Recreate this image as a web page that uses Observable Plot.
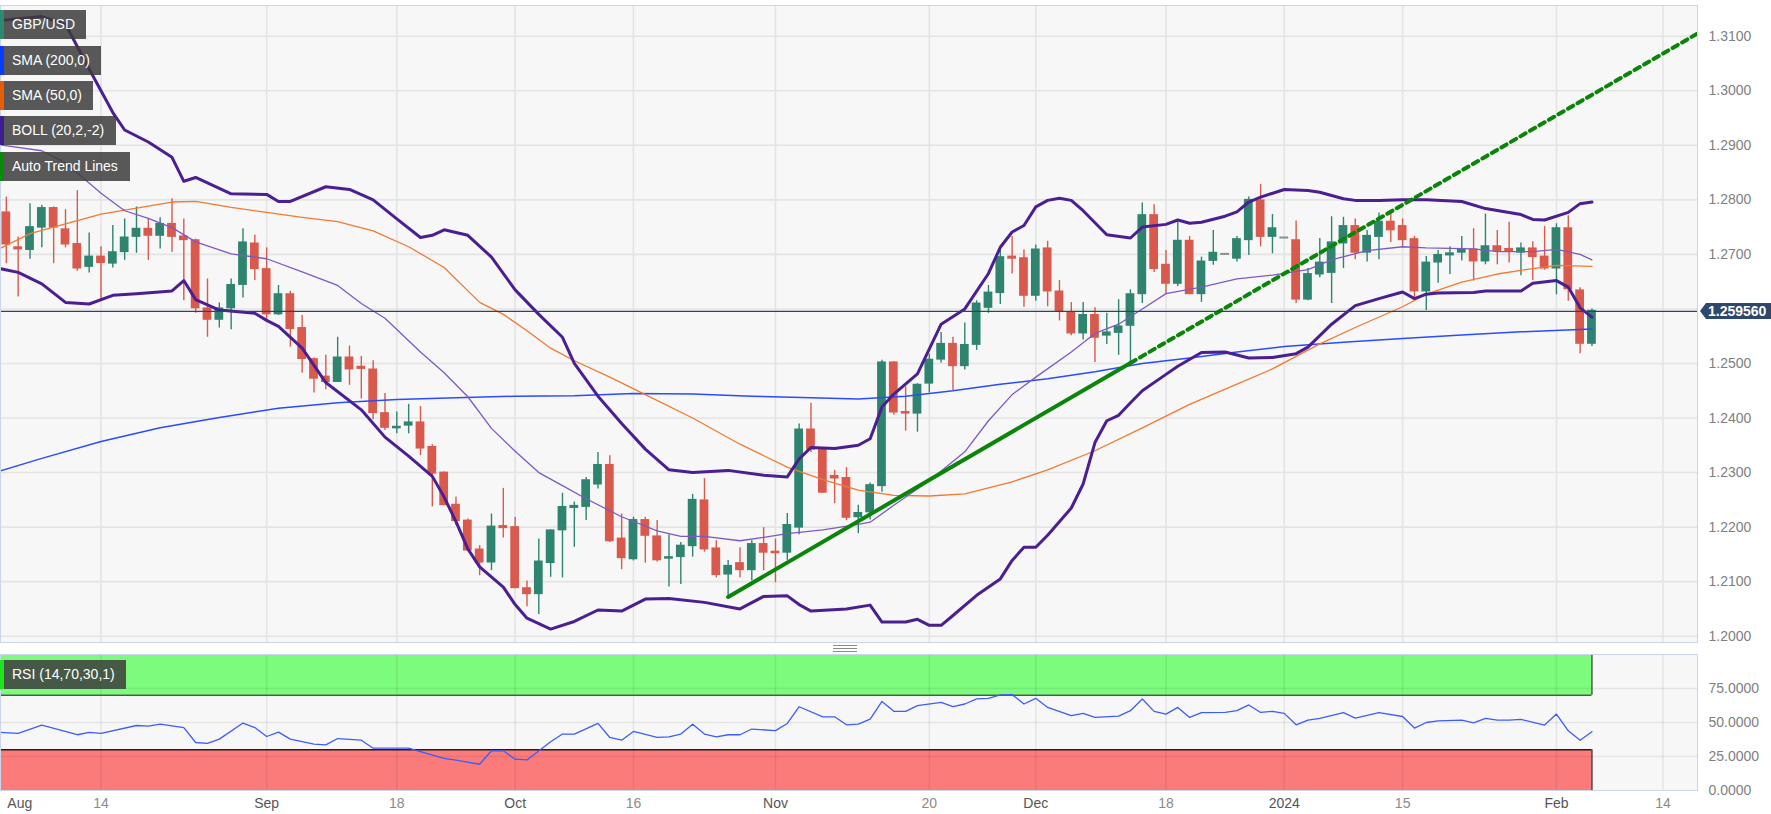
<!DOCTYPE html>
<html><head><meta charset="utf-8">
<script src="https://cdn.jsdelivr.net/npm/d3@7"></script>
<script src="https://cdn.jsdelivr.net/npm/@observablehq/plot@0.6"></script>
<style>
body{margin:0;background:#fff;font-family:"Liberation Sans",Arial,sans-serif;}
#wrap{position:relative;width:1771px;height:814px;overflow:hidden;background:#fff;}
#wrap svg{position:absolute;left:0;display:block;}
.leg{position:absolute;left:0;height:29px;line-height:29px;background:rgba(60,60,60,0.85);color:#fff;font-size:14px;padding:0 10px 0 8px;border-left:4px solid;box-sizing:border-box;white-space:nowrap;}
.hd{position:absolute;left:833px;width:24px;height:1px;background:#8a8a8a;}
</style></head><body><div id="wrap"></div>
<script>
// ---------- categories ----------
const tickDates = ["2023-08-02","2023-08-14","2023-09-01","2023-09-18","2023-10-02","2023-10-16","2023-11-01","2023-11-20","2023-12-01","2023-12-18","2024-01-01","2024-01-15","2024-02-01","2024-02-14"];
const tickLabels = ["Aug","14","Sep","18","Oct","16","Nov","20","Dec","18","2024","15","Feb","14"];
const priceTicks = [1.20,1.21,1.22,1.23,1.24,1.25,1.26,1.27,1.28,1.29,1.30,1.31];
const rsiTicks = [0,25,50,75];
const rsiUpper = 70, rsiLower = 30;
const candleStart = "2023-08-02";

// ---------- GBP/USD daily candles (Aug 2 2023 .. Feb 6 2024) ----------
const open = [1.2776,1.2712,1.2709,1.2750,1.2784,1.2745,1.2718,1.2678,
1.2695,1.2684,1.2705,1.2733,1.2746,1.2735,1.2755,1.2732,1.2725,1.2600,1.2581,1.2602,1.2645,1.2719,1.2672,
1.2591,1.2626,1.2564,1.2507,1.2475,1.2467,1.2510,1.2493,1.2488,1.2408,
1.2382,1.2387,1.2391,1.2346,1.2299,1.2240,1.2211,1.2158,1.2136,1.2201,
1.2199,1.2087,1.2078,1.2135,1.2195,1.2236,1.2238,1.2279,1.2313,1.2178,
1.2142,1.2212,1.2182,1.2143,1.2146,1.2166,1.2248,1.2160,1.2114,1.2133,
1.2122,1.2168,1.2154,1.2154,1.2200,1.2378,1.2343,1.2293,1.2289,1.2219,
1.2228,1.2276,1.2501,1.2410,1.2409,1.2464,1.2508,1.2535,1.2496,1.2535,
1.2603,1.2630,1.2695,1.2692,1.2625,1.2710,1.2631,1.2592,1.2556,1.2588,
1.2552,1.2557,1.2570,1.2628,1.2771,1.2680,1.2647,1.2724,1.2628,1.2689,
1.2700,1.2693,1.2727,1.2798,1.2733,1.2730,1.2725,1.2618,1.2664,1.2667,
1.2721,1.2751,1.2704,1.2733,1.2759,1.2751,1.2727,1.2633,1.2686,1.2699,
1.2704,1.2708,1.2688,1.2714,1.2709,1.2704,1.2710,1.2695,1.2675,1.2747,
1.2633,1.2537];
const high = [1.2805,1.2732,1.2793,1.2790,1.2787,1.2782,1.2817,1.2739,
1.2714,1.2753,1.2765,1.2787,1.2765,1.2767,1.2802,1.2765,1.2728,1.2655,1.2611,1.2655,1.2747,1.2735,1.2712,
1.2643,1.2632,1.2588,1.2510,1.2515,1.2548,1.2532,1.2513,1.2505,1.2445,
1.2411,1.2425,1.2421,1.2351,1.2301,1.2255,1.2215,1.2166,1.2224,1.2271,
1.2218,1.2101,1.2178,1.2195,1.2262,1.2246,1.2291,1.2337,1.2331,1.2224,
1.2218,1.2218,1.2212,1.2186,1.2172,1.2260,1.2289,1.2175,1.2139,1.2162,
1.2175,1.2199,1.2178,1.2225,1.2389,1.2427,1.2346,1.2304,1.2309,1.2240,
1.2281,1.2506,1.2503,1.2457,1.2463,1.2517,1.2557,1.2548,1.2574,1.2615,
1.2643,1.2708,1.2733,1.2708,1.2717,1.2724,1.2652,1.2612,1.2612,1.2602,
1.2592,1.2617,1.2635,1.2794,1.2791,1.2707,1.2761,1.2733,1.2695,1.2744,
1.2700,1.2733,1.2805,1.2828,1.2773,1.2730,1.2761,1.2674,1.2729,1.2769,
1.2768,1.2765,1.2744,1.2776,1.2774,1.2765,1.2733,1.2696,1.2707,1.2714,
1.2733,1.2747,1.2774,1.2744,1.2759,1.2721,1.2723,1.2751,1.2756,1.2771,
1.2639,1.2600];
const low = [1.2683,1.2622,1.2691,1.2712,1.2683,1.2712,1.2669,1.2666,
1.2615,1.2675,1.2689,1.2702,1.2689,1.2710,1.2704,1.2615,1.2592,1.2548,1.2565,1.2562,1.2620,1.2652,1.2578,
1.2588,1.2530,1.2482,1.2446,1.2452,1.2465,1.2460,1.2435,1.2397,1.2377,
1.2371,1.2371,1.2331,1.2237,1.2240,1.2203,1.2157,1.2111,1.2120,1.2180,
1.2087,1.2054,1.2040,1.2108,1.2107,1.2163,1.2212,1.2270,1.2172,1.2122,
1.2138,1.2134,1.2136,1.2090,1.2095,1.2145,1.2154,1.2107,1.2072,1.2107,
1.2101,1.2120,1.2098,1.2139,1.2186,1.2337,1.2262,1.2243,1.2212,1.2188,
1.2213,1.2264,1.2405,1.2376,1.2374,1.2446,1.2501,1.2450,1.2488,1.2524,
1.2592,1.2608,1.2664,1.2603,1.2614,1.2604,1.2578,1.2551,1.2543,1.2502,
1.2535,1.2515,1.2499,1.2610,1.2667,1.2628,1.2641,1.2626,1.2612,1.2680,
1.2700,1.2686,1.2698,1.2714,1.2701,1.2730,1.2610,1.2615,1.2657,1.2610,
1.2674,1.2690,1.2686,1.2690,1.2722,1.2712,1.2619,1.2597,1.2647,1.2663,
1.2688,1.2651,1.2681,1.2681,1.2684,1.2661,1.2652,1.2671,1.2626,1.2614,
1.2518,1.2531];
const close = [1.2719,1.2710,1.2749,1.2784,1.2750,1.2719,1.2675,1.2695,
1.2685,1.2703,1.2730,1.2746,1.2735,1.2755,1.2733,1.2727,1.2602,1.2581,1.2600,1.2643,1.2721,1.2674,1.2591,
1.2626,1.2564,1.2509,1.2473,1.2467,1.2510,1.2490,1.2491,1.2410,1.2383,
1.2383,1.2391,1.2345,1.2299,1.2241,1.2212,1.2158,1.2136,1.2200,1.2199,
1.2089,1.2078,1.2136,1.2193,1.2236,1.2238,1.2285,1.2313,1.2175,1.2144,
1.2212,1.2185,1.2140,1.2144,1.2165,1.2249,1.2160,1.2113,1.2128,1.2122,
1.2168,1.2154,1.2153,1.2203,1.2378,1.2343,1.2264,1.2290,1.2218,1.2225,
1.2276,1.2501,1.2411,1.2409,1.2460,1.2506,1.2535,1.2496,1.2533,1.2609,
1.2629,1.2694,1.2693,1.2625,1.2708,1.2633,1.2596,1.2556,1.2588,1.2548,
1.2556,1.2567,1.2626,1.2771,1.2674,1.2647,1.2724,1.2628,1.2686,1.2702,
1.2700,1.2727,1.2799,1.2733,1.2747,1.2730,1.2618,1.2663,1.2684,1.2721,
1.2751,1.2704,1.2733,1.2759,1.2745,1.2727,1.2633,1.2684,1.2698,1.2701,
1.2708,1.2688,1.2714,1.2707,1.2707,1.2710,1.2696,1.2675,1.2747,1.2637,
1.2537,1.25956];

// ---------- SMA (200) ----------
const sma200Dates = ["2023-08-01","2023-08-07","2023-08-14","2023-08-21","2023-08-28","2023-09-04","2023-09-11","2023-09-18","2023-09-25","2023-10-02","2023-10-09","2023-10-16","2023-10-23","2023-10-30","2023-11-06","2023-11-10","2023-11-16","2023-11-22","2023-11-28","2023-12-04","2023-12-08","2023-12-14","2023-12-20","2023-12-26","2024-01-01","2024-01-08","2024-01-15","2024-01-22","2024-01-29","2024-02-06"];
const sma200 = [1.2300,1.2326,1.2357,1.2382,1.2401,1.2418,1.2428,1.2434,1.2437,1.2440,1.2441,1.2445,1.2444,1.2440,1.2437,1.2435,1.2440,1.2450,1.2462,1.2472,1.2485,1.2500,1.2510,1.2521,1.2531,1.2539,1.2546,1.2552,1.2558,1.2563];

// ---------- SMA (50) ----------
const sma50Dates = ["2023-08-01","2023-08-04","2023-08-09","2023-08-14","2023-08-17","2023-08-22","2023-08-24","2023-08-29","2023-09-01","2023-09-06","2023-09-11","2023-09-14","2023-09-19","2023-09-22","2023-09-27","2023-09-29","2023-10-03","2023-10-05","2023-10-09","2023-10-12","2023-10-17","2023-10-23","2023-10-27","2023-11-02","2023-11-07","2023-11-10","2023-11-15","2023-11-20","2023-11-23","2023-11-29","2023-12-04","2023-12-08","2023-12-14","2023-12-20","2023-12-26","2023-12-29","2024-01-04","2024-01-09","2024-01-15","2024-01-17","2024-01-22","2024-01-25","2024-01-30","2024-02-01","2024-02-06"];
const sma50 = [1.2706,1.2738,1.2756,1.2774,1.2785,1.2796,1.2797,1.2786,1.2777,1.2768,1.2760,1.2743,1.2714,1.2676,1.2612,1.2590,1.2560,1.2528,1.2505,1.2475,1.2443,1.2400,1.2352,1.2310,1.2287,1.2268,1.2258,1.2257,1.2261,1.2283,1.2305,1.2340,1.2382,1.2425,1.2462,1.2490,1.2536,1.2566,1.2604,1.2627,1.2649,1.2664,1.2674,1.2680,1.2678];

// ---------- Bollinger (20,2,-2) ----------
const bollUpperDates = ["2023-08-01","2023-08-07","2023-08-09","2023-08-11","2023-08-15","2023-08-16","2023-08-18","2023-08-22","2023-08-23","2023-08-24","2023-08-29","2023-09-01","2023-09-04","2023-09-05","2023-09-08","2023-09-12","2023-09-14","2023-09-18","2023-09-20","2023-09-21","2023-09-22","2023-09-26","2023-09-28","2023-10-02","2023-10-04","2023-10-06","2023-10-09","2023-10-11","2023-10-13","2023-10-17","2023-10-19","2023-10-23","2023-10-26","2023-10-31","2023-11-02","2023-11-03","2023-11-06","2023-11-08","2023-11-10","2023-11-13","2023-11-14","2023-11-15","2023-11-17","2023-11-21","2023-11-23","2023-11-27","2023-11-28","2023-11-29","2023-11-30","2023-12-01","2023-12-04","2023-12-05","2023-12-06","2023-12-07","2023-12-11","2023-12-13","2023-12-14","2023-12-18","2023-12-19","2023-12-20","2023-12-21","2023-12-25","2023-12-26","2023-12-27","2023-12-28","2024-01-01","2024-01-03","2024-01-04","2024-01-08","2024-01-09","2024-01-11","2024-01-15","2024-01-17","2024-01-22","2024-01-24","2024-01-29","2024-01-30","2024-01-31","2024-02-02","2024-02-05","2024-02-06"];
const bollUpper = [1.3128,1.3136,1.3122,1.3040,1.2960,1.2928,1.2906,1.2878,1.2834,1.2841,1.2811,1.2810,1.2797,1.2797,1.2824,1.2819,1.2800,1.2765,1.2731,1.2735,1.2745,1.2735,1.2695,1.2635,1.2590,1.2548,1.2500,1.2440,1.2390,1.2343,1.2305,1.2300,1.2304,1.2295,1.2292,1.2325,1.2346,1.2344,1.2350,1.2362,1.2420,1.2444,1.2481,1.2572,1.2600,1.2665,1.2713,1.2741,1.2753,1.2787,1.2799,1.2803,1.2799,1.2780,1.2736,1.2730,1.2750,1.2755,1.2763,1.2757,1.2759,1.2770,1.2778,1.2796,1.2805,1.2819,1.2817,1.2814,1.2802,1.2799,1.2799,1.2800,1.2800,1.2797,1.2784,1.2773,1.2764,1.2763,1.2777,1.2793,1.2796];
const bollMidDates = ["2023-08-01","2023-08-07","2023-08-09","2023-08-14","2023-08-16","2023-08-18","2023-08-22","2023-08-24","2023-08-29","2023-09-01","2023-09-06","2023-09-11","2023-09-13","2023-09-15","2023-09-20","2023-09-22","2023-09-26","2023-09-28","2023-10-02","2023-10-04","2023-10-06","2023-10-10","2023-10-13","2023-10-18","2023-10-20","2023-10-24","2023-10-27","2023-10-31","2023-11-02","2023-11-07","2023-11-10","2023-11-13","2023-11-15","2023-11-20","2023-11-23","2023-11-27","2023-11-29","2023-12-01","2023-12-06","2023-12-08","2023-12-12","2023-12-14","2023-12-18","2023-12-21","2023-12-26","2023-12-29","2024-01-03","2024-01-05","2024-01-10","2024-01-15","2024-01-17","2024-01-23","2024-01-25","2024-01-30","2024-02-01","2024-02-05","2024-02-06"];
const bollMid = [1.2902,1.2890,1.2868,1.2812,1.2780,1.2766,1.2749,1.2723,1.2701,1.2692,1.2668,1.2643,1.2610,1.2583,1.2521,1.2483,1.2439,1.2381,1.2339,1.2300,1.2276,1.2252,1.2219,1.2193,1.2183,1.2183,1.2175,1.2181,1.2188,1.2195,1.2205,1.2209,1.2240,1.2285,1.2338,1.2395,1.2443,1.2475,1.2521,1.2555,1.2572,1.2600,1.2628,1.2640,1.2655,1.2662,1.2672,1.2690,1.2707,1.2714,1.2712,1.2710,1.2705,1.2705,1.2709,1.2700,1.2690];
const bollLowerDates = ["2023-08-01","2023-08-03","2023-08-07","2023-08-09","2023-08-11","2023-08-15","2023-08-17","2023-08-22","2023-08-23","2023-08-24","2023-08-28","2023-08-31","2023-09-01","2023-09-04","2023-09-06","2023-09-08","2023-09-13","2023-09-15","2023-09-19","2023-09-21","2023-09-22","2023-09-25","2023-09-26","2023-09-27","2023-09-29","2023-10-02","2023-10-03","2023-10-05","2023-10-09","2023-10-11","2023-10-13","2023-10-17","2023-10-19","2023-10-24","2023-10-27","2023-10-31","2023-11-02","2023-11-03","2023-11-06","2023-11-09","2023-11-13","2023-11-14","2023-11-16","2023-11-17","2023-11-20","2023-11-21","2023-11-22","2023-11-24","2023-11-28","2023-11-29","2023-11-30","2023-12-01","2023-12-04","2023-12-06","2023-12-07","2023-12-08","2023-12-11","2023-12-12","2023-12-13","2023-12-14","2023-12-18","2023-12-19","2023-12-21","2023-12-25","2023-12-27","2023-12-29","2024-01-02","2024-01-03","2024-01-05","2024-01-09","2024-01-11","2024-01-15","2024-01-16","2024-01-17","2024-01-18","2024-01-23","2024-01-24","2024-01-29","2024-01-30","2024-02-01","2024-02-02","2024-02-05","2024-02-06"];
const bollLower = [1.2676,1.2667,1.2646,1.2612,1.2609,1.2625,1.2628,1.2633,1.2652,1.2617,1.2598,1.2592,1.2579,1.2568,1.2528,1.2465,1.2415,1.2365,1.2330,1.2293,1.2255,1.2210,1.2160,1.2127,1.2090,1.2058,1.2033,1.2013,1.2027,1.2048,1.2046,1.2068,1.2069,1.2062,1.2050,1.2073,1.2074,1.2058,1.2046,1.2050,1.2057,1.2026,1.2026,1.2031,1.2020,1.2020,1.2038,1.2075,1.2105,1.2139,1.2163,1.2163,1.2185,1.2235,1.2279,1.2355,1.2395,1.2405,1.2428,1.2450,1.2480,1.2495,1.2520,1.2521,1.2510,1.2511,1.2518,1.2530,1.2572,1.2606,1.2619,1.2631,1.2619,1.2627,1.2629,1.2630,1.2633,1.2633,1.2647,1.2652,1.2640,1.2602,1.2585];

// ---------- Auto trend line ----------
const trendDates = ["2023-10-26","2023-12-13"];
const trendValues = [1.2072,1.2501];
const trendExtDates = ["2023-12-13","2024-02-19"];
const trendExtValues = [1.2501,1.3106];

// ---------- RSI (14,70,30,1) ----------
const rsiDates = ["2023-08-01","2023-08-03","2023-08-07","2023-08-10","2023-08-11","2023-08-14","2023-08-17","2023-08-18","2023-08-21","2023-08-23","2023-08-24","2023-08-25","2023-08-28","2023-08-30","2023-08-31","2023-09-01","2023-09-04","2023-09-05","2023-09-07","2023-09-08","2023-09-11","2023-09-13","2023-09-14","2023-09-19","2023-09-20","2023-09-22","2023-09-25","2023-09-27","2023-09-28","2023-09-29","2023-10-02","2023-10-03","2023-10-05","2023-10-06","2023-10-09","2023-10-11","2023-10-12","2023-10-13","2023-10-16","2023-10-18","2023-10-19","2023-10-20","2023-10-23","2023-10-24","2023-10-25","2023-10-26","2023-10-27","2023-10-30","2023-11-01","2023-11-02","2023-11-03","2023-11-07","2023-11-08","2023-11-09","2023-11-10","2023-11-13","2023-11-14","2023-11-15","2023-11-16","2023-11-17","2023-11-21","2023-11-22","2023-11-23","2023-11-24","2023-11-27","2023-11-28","2023-11-29","2023-11-30","2023-12-01","2023-12-04","2023-12-06","2023-12-07","2023-12-08","2023-12-12","2023-12-13","2023-12-14","2023-12-15","2023-12-18","2023-12-19","2023-12-20","2023-12-21","2023-12-25","2023-12-26","2023-12-27","2023-12-28","2023-12-29","2024-01-01","2024-01-02","2024-01-03","2024-01-04","2024-01-08","2024-01-09","2024-01-11","2024-01-15","2024-01-16","2024-01-17","2024-01-18","2024-01-22","2024-01-23","2024-01-24","2024-01-25","2024-01-26","2024-01-29","2024-01-31","2024-02-01","2024-02-02","2024-02-05","2024-02-06"];
const rsiValues = [43.0,42.0,48.0,41.0,42.7,42.0,47.8,47.3,48.8,46.3,35.3,34.6,37.8,49.6,46.3,39.7,42.9,37.8,34.1,33.6,38.2,37.0,31.1,31.1,28.6,23.7,22.3,19.3,29.2,29.2,23.0,22.5,35.8,41.5,41.5,49.3,39.0,37.0,43.4,39.0,39.5,41.5,48.8,41.5,39.5,41.0,41.0,45.2,44.0,49.3,61.6,54.2,54.2,48.3,48.8,52.5,65.5,58.2,58.2,62.4,64.8,61.6,63.6,67.3,67.8,70.3,70.5,63.6,67.8,61.1,55.0,56.7,53.7,54.7,58.7,67.3,58.2,56.2,61.1,53.7,57.2,57.4,58.7,62.9,57.4,58.2,56.7,48.3,51.8,53.0,57.2,53.2,57.2,54.4,45.9,50.0,51.2,51.8,49.8,53.0,51.8,51.8,52.3,48.1,56.2,43.9,37.0,43.2];

// ---------- build ----------
const W = 1771;
const tradingDays = d3.timeDay.range(new Date(2023,7,1), new Date(2024,1,21)).filter(d => d.getDay() % 6 !== 0);
const iso = d3.timeFormat("%Y-%m-%d");
const dayIndex = new Map(tradingDays.map((d,i) => [iso(d), i]));
const X = s => dayIndex.get(s);
const xDomain = [0.507, 143.92];
const GREEN = "#2f8470", RED = "#d9594c", GRAY = "#8c8c8c";
const font = "'Liberation Sans', Arial, sans-serif";

const candles = open.map((o,k) => {
  const c = close[k];
  return {x: X(candleStart) + k, o, h: high[k], l: low[k], c, color: c > o ? GREEN : c < o ? RED : GRAY};
});
const series = (dates, vals) => dates.map((d,i) => ({x: X(d), y: vals[i]})).filter(p => p.x !== undefined);
const lastClose = close[close.length-1];
const lastX = candles[candles.length-1].x;
const gridTicks = tickDates.slice(1).map(X);
// the current-price tag hides the axis label it covers, as in the source chart
const priceLabelTicks = priceTicks.filter(t => Math.abs(t - lastClose) > 0.002);
const isDay = i => /^\d{1,2}$/.test(tickLabels[i]);

const main = Plot.plot({
  width: W, height: 648, marginTop: 5, marginBottom: 6, marginLeft: 0, marginRight: 74,
  x: {type: "linear", domain: xDomain, axis: null},
  y: {domain: [1.198845, 1.315628], axis: null},
  color: {type: "identity"},
  style: {background: "transparent", fontFamily: font},
  marks: [
    Plot.frame({fill: "#f7f7f7", stroke: "none"}),
    Plot.gridY(priceTicks, {stroke: "#e4e4e4", strokeOpacity: 1, strokeWidth: 1.6}),
    Plot.gridX(gridTicks, {stroke: "#e4e4e4", strokeOpacity: 1, strokeWidth: 1.6}),
    Plot.axisY(priceLabelTicks, {anchor: "right", label: null, tickSize: 0, tickPadding: 11, tickFormat: d => d.toFixed(4), fontSize: 14, fill: "#808080"}),
    Plot.ruleX(candles, {x: "x", y1: "l", y2: "h", stroke: "color", strokeWidth: 1.4, clip: true}),
    Plot.rect(candles, {x1: d => d.x - 0.37, x2: d => d.x + 0.37, y1: "o", y2: "c", fill: "color", insetTop: -1, insetBottom: -1, clip: true}),
    Plot.line(series(sma200Dates, sma200), {x: "x", y: "y", stroke: "#2a4bff", strokeWidth: 1.5, clip: true}),
    Plot.line(series(sma50Dates, sma50), {x: "x", y: "y", stroke: "#f27a30", strokeWidth: 1.3, clip: true}),
    Plot.line(series(bollMidDates, bollMid), {x: "x", y: "y", stroke: "#7d5ac2", strokeWidth: 1.3, clip: true}),
    Plot.line(series(bollUpperDates, bollUpper), {x: "x", y: "y", stroke: "#4b1e91", strokeWidth: 3, clip: true}),
    Plot.line(series(bollLowerDates, bollLower), {x: "x", y: "y", stroke: "#4b1e91", strokeWidth: 3, clip: true}),
    Plot.line(series(trendDates, trendValues), {x: "x", y: "y", stroke: "#0a850a", strokeWidth: 4, clip: true}),
    Plot.line(series(trendExtDates, trendExtValues), {x: "x", y: "y", stroke: "#0a850a", strokeWidth: 4, strokeDasharray: "6,5", clip: true}),
    Plot.ruleY([lastClose], {stroke: "#2b4560", strokeWidth: 1.2}),
    Plot.frame({stroke: "#ccd6eb"})
  ]
});
main.style.top = "0px";

const rsiPts = series(rsiDates, rsiValues);
const rsiChart = Plot.plot({
  width: W, height: 166, marginTop: 6, marginBottom: 24, marginLeft: 0, marginRight: 74,
  x: {type: "linear", domain: xDomain, axis: null},
  y: {domain: [0, 100], axis: null},
  style: {background: "transparent", fontFamily: font},
  marks: [
    Plot.frame({fill: "#f7f7f7", stroke: "none"}),
    Plot.rect([0], {x1: 0, x2: lastX, y1: rsiUpper, y2: 100, fill: "#7dfb7d", clip: true}),
    Plot.rect([0], {x1: 0, x2: lastX, y1: 0, y2: rsiLower, fill: "#fb7b7b", clip: true}),
    Plot.gridY([25,50,75], {stroke: "#000", strokeOpacity: 0.07, strokeWidth: 1.6}),
    Plot.gridX(gridTicks, {stroke: "#000", strokeOpacity: 0.07, strokeWidth: 1.6}),
    Plot.ruleY([rsiUpper], {x1: 0, x2: lastX, stroke: "#2f6e2f", strokeWidth: 1.5, clip: true}),
    Plot.ruleY([rsiLower], {x1: 0, x2: lastX, stroke: "#2a1a1a", strokeWidth: 1.5, clip: true}),
    Plot.ruleX([lastX], {y1: rsiUpper, y2: 100, stroke: "#1e3a1e", strokeWidth: 1.2}),
    Plot.ruleX([lastX], {y1: 0, y2: rsiLower, stroke: "#2a1a1a", strokeWidth: 1.2}),
    Plot.line(rsiPts, {x: "x", y: "y", stroke: "#3d5cff", strokeWidth: 1.3, clip: true}),
    Plot.axisY(rsiTicks, {anchor: "right", label: null, tickSize: 0, tickPadding: 11, tickFormat: d => d.toFixed(4), fontSize: 14, fill: "#808080"}),
    Plot.text(tickDates, {x: d => X(d), text: (d,i) => tickLabels[i], frameAnchor: "bottom", dy: 17, fontSize: 14,
      textAnchor: (d,i) => i === 0 ? "start" : "middle",
      dx: 0,
      fontWeight: (d,i) => isDay(i) ? "normal" : "bold",
      fill: (d,i) => isDay(i) ? "#8a8a8a" : "#555"}),
    Plot.frame({stroke: "#ccd6eb"})
  ]
});
rsiChart.style.top = "648px";

const wrap = document.getElementById("wrap");
wrap.appendChild(main);
wrap.appendChild(rsiChart);

// the first month label sits at the left edge: start it at the frame edge so it is not cut
const firstLabel = rsiChart.querySelectorAll("text");
firstLabel.forEach(t => { if (t.textContent === "Aug") { t.setAttribute("x", "1"); t.setAttribute("text-anchor", "start"); } });

// legends
const legends = [["GBP/USD","#2e8a6e",10,86],["SMA (200,0)","#0a3cff",46,101],["SMA (50,0)","#e85d04",81,93],["BOLL (20,2,-2)","#3b1f8f",116,116],["Auto Trend Lines","#0a8a0a",152,130],["RSI (14,70,30,1)","#1ee61e",660,126]];
for (const [t,c,top,w] of legends) {
  const d = document.createElement("div");
  d.className = "leg"; d.textContent = t;
  d.style.borderLeftColor = c; d.style.top = top + "px"; d.style.width = w + "px";
  wrap.appendChild(d);
}
// drag handle
for (const t of [645,648,651]) { const h = document.createElement("div"); h.className = "hd"; h.style.top = t + "px"; wrap.appendChild(h); }

// current price label
const py = main.scale("y").apply(lastClose);
const lab = document.createElement("div");
lab.style.cssText = `position:absolute;left:1706px;top:${py-8}px;height:16px;line-height:16px;padding:0 6px 0 2px;background:#2d4868;color:#fff;font-weight:bold;font-size:14px;font-family:${font};`;
lab.textContent = lastClose.toFixed(6);
const arr = document.createElement("div");
arr.style.cssText = `position:absolute;left:1700px;top:${py-8}px;width:0;height:0;border-top:8px solid transparent;border-bottom:8px solid transparent;border-right:6px solid #2d4868;`;
wrap.appendChild(arr); wrap.appendChild(lab);
</script></body></html>
